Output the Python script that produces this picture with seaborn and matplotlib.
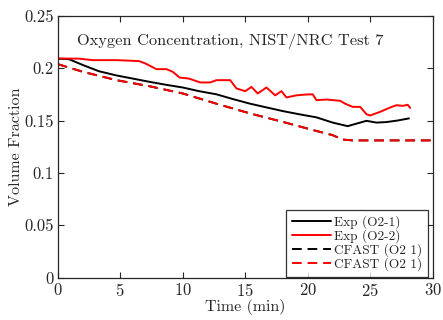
import numpy as np
import pandas as pd
import matplotlib
matplotlib.use("Agg")
import matplotlib.pyplot as plt
import seaborn as sns

# Exp (O2-1)
t_exp1 = [0, 0.9, 2.0, 3.3, 4.7, 6.0, 7.3, 8.7, 10.0, 11.3, 12.7, 14.0, 15.4, 16.7,
          18.0, 19.3, 20.7, 22.0, 23.2, 23.6, 24.2, 24.7, 25.5, 26.3, 27.2, 28.1]
o2_exp1 = [0.209, 0.2085, 0.203, 0.197, 0.193, 0.190, 0.187, 0.184, 0.1815, 0.178,
           0.175, 0.1705, 0.166, 0.1625, 0.159, 0.156, 0.153, 0.148, 0.1446, 0.146,
           0.148, 0.1497, 0.148, 0.1485, 0.150, 0.152]

# Exp (O2-2)
t_exp2 = [0, 1.7, 2.8, 4.7, 6.5, 7.0, 7.9, 8.7, 9.2, 9.75, 10.5, 11.4, 12.2, 12.7,
          13.8, 14.3, 15.0, 15.5, 16.0, 16.7, 17.4, 17.9, 18.3, 19.1, 19.9, 20.4,
          20.7, 21.5, 22.6, 23.0, 23.6, 24.2, 24.7, 25.0, 25.8, 26.6, 27.1, 27.6,
          28.0, 28.2]
o2_exp2 = [0.2092, 0.209, 0.2076, 0.2076, 0.2067, 0.2045, 0.199, 0.199, 0.1965,
           0.191, 0.190, 0.1863, 0.1863, 0.1885, 0.1885, 0.1806, 0.178, 0.182,
           0.1758, 0.1815, 0.174, 0.178, 0.172, 0.174, 0.1748, 0.175, 0.1694,
           0.170, 0.1688, 0.166, 0.163, 0.163, 0.156, 0.1548, 0.1583, 0.1624,
           0.1646, 0.164, 0.165, 0.162]

# CFAST (both rooms, drawn on top of each other)
t_cfast = [0, 2.0, 4.7, 7.3, 10.0, 12.7, 15.4, 18.0, 20.7, 22.0, 22.8, 23.6, 30.0]
o2_cfast1 = [0.2038, 0.1965, 0.1885, 0.1828, 0.1758, 0.166, 0.1567, 0.1487, 0.140,
             0.136, 0.1318, 0.131, 0.131]
o2_cfast2 = [0.2038, 0.1965, 0.1885, 0.1828, 0.1758, 0.166, 0.1567, 0.1487, 0.140,
             0.136, 0.1318, 0.131, 0.131]

sns.set_style("ticks")
plt.rcParams["font.family"] = ["cmr10", "DejaVu Serif"]
plt.rcParams["mathtext.fontset"] = "cm"
plt.rcParams["axes.formatter.use_mathtext"] = True
plt.rcParams["xtick.direction"] = "in"
plt.rcParams["ytick.direction"] = "in"

fig = plt.figure(figsize=(4.43, 3.2), dpi=100)
ax = fig.add_axes([57.7 / 443, 1 - 277.7 / 320, 375 / 443, 262 / 320])

sns.lineplot(x=t_exp1, y=o2_exp1, ax=ax, color="black", lw=1.4, label="Exp (O2-1)")
sns.lineplot(x=t_exp2, y=o2_exp2, ax=ax, color="red", lw=1.4, label="Exp (O2-2)")
sns.lineplot(x=t_cfast, y=o2_cfast1, ax=ax, color="black", lw=1.4,
             linestyle=(0, (5, 3)), label="CFAST (O2 1)")
sns.lineplot(x=t_cfast, y=o2_cfast2, ax=ax, color="red", lw=1.4,
             linestyle=(0, (5, 3)), label="CFAST (O2 1)")

ax.set_xlim(0, 30)
ax.set_ylim(0, 0.25)
ax.set_xticks([0, 5, 10, 15, 20, 25, 30])
ax.set_yticks([0, 0.05, 0.1, 0.15, 0.2, 0.25])
ax.set_yticklabels(["0", "0.05", "0.1", "0.15", "0.2", "0.25"])
ax.tick_params(top=True, right=True, labelsize=12, length=4, width=0.8, pad=3)
for s in ax.spines.values():
    s.set_linewidth(0.9)
ax.set_xlabel("Time (min)", fontsize=11.5, labelpad=0)
ax.set_ylabel("Volume Fraction", fontsize=11.5, labelpad=1)
ax.text(0.051, 0.903, "Oxygen Concentration, NIST/NRC Test 7", transform=ax.transAxes,
        fontsize=11.8, va="center", ha="left")

leg = ax.legend(loc="lower right", bbox_to_anchor=(0.987, 0.004), fontsize=9.6,
                frameon=True, fancybox=False, edgecolor="black",
                handlelength=2.9, handletextpad=0.2, labelspacing=0.0,
                borderpad=0.45, borderaxespad=0)
leg.get_frame().set_linewidth(0.9)

fig.savefig("out.png", dpi=100)
